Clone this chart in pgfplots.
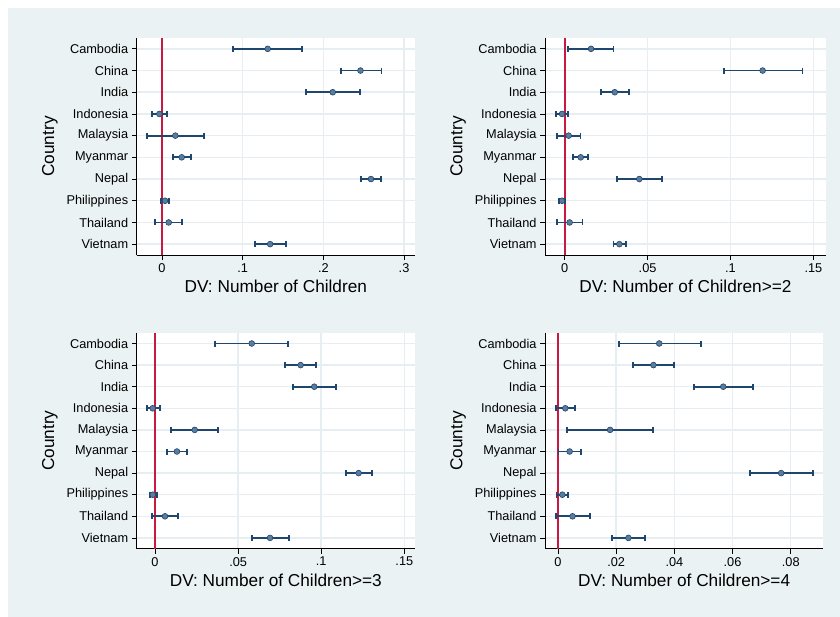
\documentclass[border=0pt]{standalone}
\usepackage{pgfplots}
\pgfplotsset{compat=1.18}
\usepackage{pgfplotstable}
\usepackage{fontspec}
\setmainfont{Liberation Sans}
\definecolor{bgc}{RGB}{234,242,243}
\definecolor{gridc}{RGB}{230,238,241}
\definecolor{navyc}{RGB}{30,70,110}
\definecolor{mfill}{RGB}{92,124,155}
\definecolor{zred}{RGB}{200,25,65}

\pgfplotstableread{
y x lo hi
1 0.131 0.0884 0.174
2 0.246 0.2215 0.272
3 0.2116 0.1785 0.2455
4 -0.0033 -0.0128 0.0058
5 0.0165 -0.019 0.0525
6 0.0244 0.014 0.036
7 0.259 0.2467 0.2715
8 0.0037 -0.0017 0.009
9 0.0083 -0.0087 0.0252
10 0.134 0.1153 0.1533
}\tA
\pgfplotstableread{
y x lo hi
1 0.0159 0.0022 0.0294
2 0.1194 0.0959 0.1434
3 0.0302 0.0221 0.039
4 -0.0016 -0.0054 0.0018
5 0.0024 -0.0046 0.0095
6 0.0097 0.005 0.0143
7 0.0450 0.0314 0.0585
8 -0.0016 -0.0036 0.0002
9 0.003 -0.0046 0.0107
10 0.033 0.0294 0.0368
}\tB
\pgfplotstableread{
y x lo hi
1 0.0582 0.0363 0.0802
2 0.0876 0.0784 0.0967
3 0.0958 0.0832 0.1089
4 -0.0014 -0.005 0.003
5 0.0239 0.0094 0.0381
6 0.0132 0.007 0.0193
7 0.1225 0.1147 0.1303
8 -0.0014 -0.0032 0.001
9 0.006 -0.0016 0.014
10 0.0692 0.0582 0.0808
}\tC
\pgfplotstableread{
y x lo hi
1 0.0348 0.021 0.0492
2 0.0328 0.0259 0.0398
3 0.0568 0.0468 0.0669
4 0.0025 -0.0008 0.0058
5 0.0179 0.0031 0.0327
6 0.004 0.0002 0.0078
7 0.0767 0.0659 0.0876
8 0.0015 -0.0005 0.0033
9 0.005 -0.0008 0.011
10 0.0242 0.0186 0.0299
}\tD

\pgfplotsset{
 panel/.style={
  scale only axis,
  axis lines*=left,
  axis line style={-, black, line width=0.8bp},
  axis background/.style={fill=white},
  y dir=reverse, ymin=0.5, ymax=10.5,
  ytick={1,...,10},
  yticklabels={Cambodia,China,India,Indonesia,Malaysia,Myanmar,Nepal,Philippines,Thailand,Vietnam},
  tick align=outside, major tick length=5bp,
  tick style={black, line width=0.8bp},
  xmajorgrids, ymajorgrids,
  grid style={gridc, line width=1.5bp},
  scaled x ticks=false,
  ticklabel style={font=\fontsize{12.8}{14}\selectfont},
  /pgf/number format/assume math mode=true,
  every axis x label/.style={at={(axis description cs:0.5,0)}, anchor=base, yshift=-37.7bp, font=\fontsize{17.3}{19}\selectfont},
  every axis y label/.style={at={(axis description cs:0,0.5)}, xshift=-82.7bp, rotate=90, anchor=base, font=\fontsize{17.3}{19}\selectfont},
  ylabel={Country},
 },
 seg/.style={navyc, line width=1.8bp, mark=none,
  quiver={u=\thisrow{hi}-\thisrow{lo}, v=0}},
 pt/.style={only marks, mark=*, mark size=2.9bp,
  mark options={fill=mfill, draw=navyc, line width=0.6bp}},
 cap/.style={only marks, mark=|, mark size=3bp, mark options={navyc, line width=1.8bp}},
 zline/.style={zred, line width=1.9bp},
}

\newcommand\drawci[1]{%
\addplot[zline] coordinates {(0,0.5) (0,10.5)};
\addplot[seg] table[x=lo, y=y] {#1};
\addplot[cap] table[x=lo, y=y] {#1};
\addplot[cap] table[x=hi, y=y] {#1};
\addplot[pt] table[x=x, y=y] {#1};
}

\begin{document}
\begin{tikzpicture}
\fill[white] (0bp,0bp) rectangle (840bp,617bp);
\fill[bgc] (8bp,0bp) rectangle (840bp,609bp);

\begin{axis}[panel, at={(136.7bp,362bp)}, anchor=south west, width=278.3bp, height=217bp,
  xmin=-0.0314, xmax=0.3136, xtick={0,0.1,0.2,0.3}, xticklabels={0,.1,.2,.3},
  xlabel={DV: Number of Children}]
\drawci{\tA}
\end{axis}

\begin{axis}[panel, at={(545bp,362bp)}, anchor=south west, width=281bp, height=217bp,
  xmin=-0.01186, xmax=0.1576, xtick={0,0.05,0.1,0.15}, xticklabels={0,.05,.1,.15},
  xlabel={DV: Number of Children>=2}]
\drawci{\tB}
\end{axis}

\begin{axis}[panel, at={(136.7bp,68.3bp)}, anchor=south west, width=278.3bp, height=216bp,
  xmin=-0.0110, xmax=0.1564, xtick={0,0.05,0.1,0.15}, xticklabels={0,.05,.1,.15},
  xlabel={DV: Number of Children>=3}]
\drawci{\tC}
\end{axis}

\begin{axis}[panel, at={(545bp,68.3bp)}, anchor=south west, width=278.3bp, height=216bp,
  xmin=-0.00447, xmax=0.0912, xtick={0,0.02,0.04,0.06,0.08}, xticklabels={0,.02,.04,.06,.08},
  xlabel={DV: Number of Children>=4}]
\drawci{\tD}
\end{axis}

\pgfresetboundingbox
\useasboundingbox (0bp,0bp) rectangle (840bp,617bp);
\end{tikzpicture}
\end{document}
